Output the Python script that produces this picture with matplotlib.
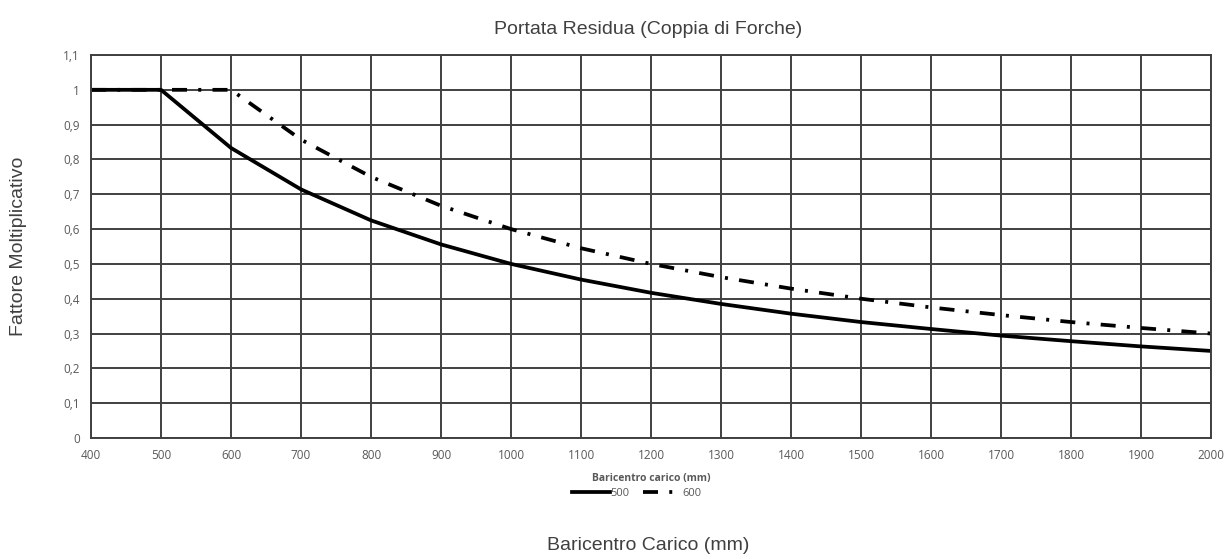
import numpy as np
import matplotlib.pyplot as plt
from matplotlib.ticker import FuncFormatter

# Baricentro carico (mm)
baricentro = [400, 500, 600, 700, 800, 900, 1000, 1100, 1200, 1300, 1400,
              1500, 1600, 1700, 1800, 1900, 2000]
# Fattore moltiplicativo
fattore_500 = [1, 1, 0.833, 0.714, 0.625, 0.556, 0.5, 0.455, 0.417, 0.385,
               0.357, 0.333, 0.313, 0.294, 0.278, 0.263, 0.25]
fattore_600 = [1, 1, 1, 0.857, 0.75, 0.667, 0.6, 0.545, 0.5, 0.462,
               0.429, 0.4, 0.375, 0.353, 0.333, 0.316, 0.3]

plt.rcParams['font.family'] = ['Liberation Sans', 'DejaVu Sans']

fig = plt.figure(figsize=(12.3, 5.59), dpi=100)
ax = fig.add_axes([0.074, 0.2165, 0.9106, 0.6851])

ax.plot(baricentro, fattore_500, color="black", linewidth=2.7, label="500")
ax.plot(baricentro, fattore_600, color="black", linewidth=2.7,
        linestyle=(0, (4, 3, 0.8, 3)), label="600")

ax.set_xlim(400, 2000)
ax.set_ylim(0, 1.1)
ax.set_xticks(np.arange(400, 2001, 100))
ax.set_yticks(np.arange(0, 1.101, 0.1))
ax.yaxis.set_major_formatter(FuncFormatter(
    lambda v, p: ("%g" % round(v, 1)).replace(".", ",")))
ax.grid(True, color="#404040", linewidth=1.4)
for s in ax.spines.values():
    s.set_color("#404040")
    s.set_linewidth(1.4)
ax.tick_params(length=0, labelsize=8.5, colors="#595959", pad=8)
for lab in ax.get_xticklabels() + ax.get_yticklabels():
    lab.set_family(['Open Sans', 'DejaVu Sans'])

ax.set_xlabel("Baricentro carico (mm)", fontsize=7.5, fontweight="bold",
              color="#595959", family=['Open Sans', 'DejaVu Sans'], labelpad=8)

leg = ax.legend(loc="upper center", bbox_to_anchor=(0.487, -0.105), ncol=2,
                frameon=False, fontsize=8, handlelength=3.4, columnspacing=1.2,
                handletextpad=0.1)
for t in leg.get_texts():
    t.set_color("#595959")
    t.set_family(['Open Sans', 'DejaVu Sans'])

fig.text(0.527, 0.948, "Portata Residua (Coppia di Forche)", ha="center",
         va="center", fontsize=14, color="#404040")
fig.text(0.527, 0.025, "Baricentro Carico (mm)", ha="center", va="center",
         fontsize=14, color="#404040")
fig.text(0.015, 0.56, "Fattore Moltiplicativo", ha="center", va="center",
         rotation=90, fontsize=14, color="#404040")

fig.savefig("out.png", dpi=100)
